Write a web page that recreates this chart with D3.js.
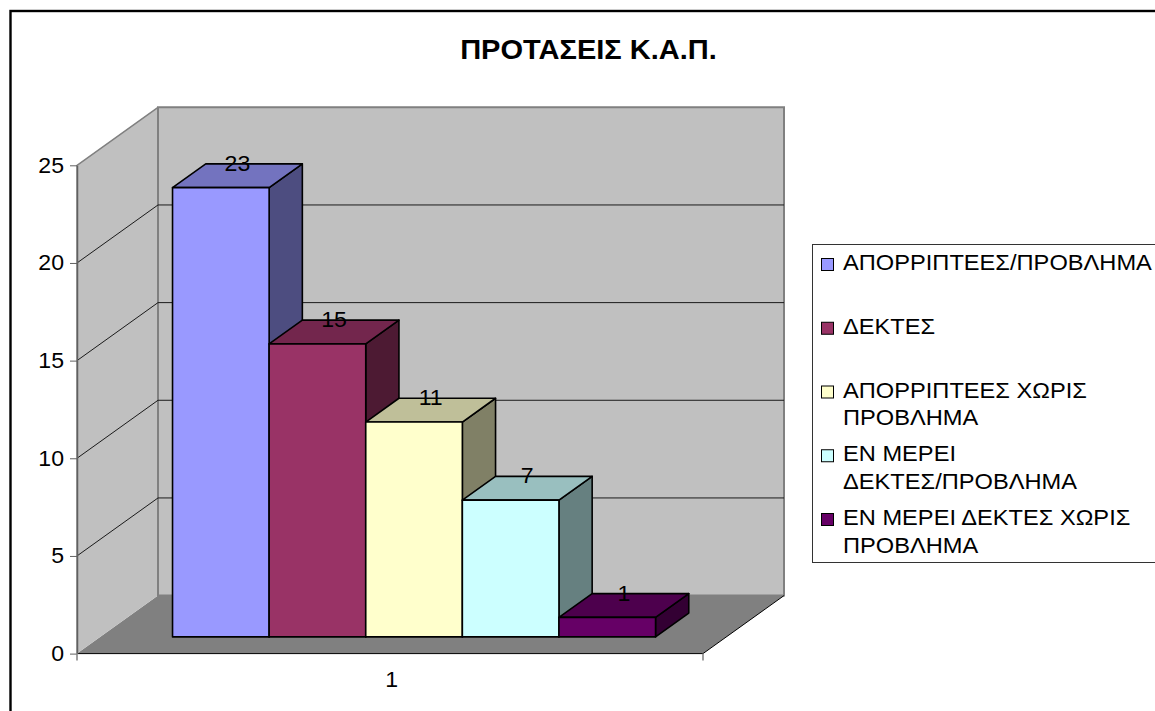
<!DOCTYPE html>
<html>
<head>
<meta charset="utf-8">
<script src="https://cdn.jsdelivr.net/npm/d3@7"></script>
<style>
  html, body { margin: 0; padding: 0; background: #fff; overflow: hidden; }
  svg { display: block; }
  text { font-family: "Liberation Sans", Arial, sans-serif; fill: #000; }
</style>
</head>
<body>
<div id="chart"></div>
<script>
const title = 'ΠΡΟΤΑΣΕΙΣ Κ.Α.Π.';
const categories = ['1'];
const seriesNames = [
  ['ΑΠΟΡΡΙΠΤΕΕΣ/ΠΡΟΒΛΗΜΑ'],
  ['ΔΕΚΤΕΣ'],
  ['ΑΠΟΡΡΙΠΤΕΕΣ ΧΩΡΙΣ', 'ΠΡΟΒΛΗΜΑ'],
  ['ΕΝ ΜΕΡΕΙ', 'ΔΕΚΤΕΣ/ΠΡΟΒΛΗΜΑ'],
  ['ΕΝ ΜΕΡΕΙ ΔΕΚΤΕΣ ΧΩΡΙΣ', 'ΠΡΟΒΛΗΜΑ'],
];
const seriesValues = [23, 15, 11, 7, 1];
const seriesColors = ['#9999ff', '#993366', '#ffffcc', '#ccffff', '#660066'];
const yTicks = [0, 5, 10, 15, 20, 25];

const width = 1155;
const height = 711;

// front plane of the box and how far the depth axis shifts things on screen
const plot = { left: 77, right: 703, top: 165.3, bottom: 653.6 };
const depth = { dx: 81, dy: 58 };
// bars stand part way into the box
const barDepth = { start: 0.288, size: 0.41 };
// the text in the chart is wider than the font's own proportions
const stretch = 'scale(1.075, 1)';
const fontSize = 21.5;

const yScale = d3.scaleLinear().domain([0, 25]).range([plot.bottom, plot.top]);
const x0 = d3.scaleBand().domain(categories).range([plot.left, plot.right]).paddingOuter(0.148).align(0.505);
const x1 = d3.scaleBand().domain(d3.range(seriesValues.length)).range([x0('1'), x0('1') + x0.bandwidth()]);

// x on front plane, y value, z 0..1 into the box
function project(x, v, z) {
  return [x + z * depth.dx, yScale(v) - z * depth.dy];
}
const line = d3.line();

const svg = d3.select('#chart').append('svg')
  .attr('width', width)
  .attr('height', height)
  .attr('viewBox', `0 0 ${width} ${height}`);

svg.append('rect')
  .attr('x', 10.5).attr('y', 11)
  .attr('width', width + 20).attr('height', height + 20)
  .attr('fill', '#fff').attr('stroke', '#000').attr('stroke-width', 2.4);

svg.append('text')
  .attr('transform', `translate(588.5, 59) ${stretch}`)
  .attr('text-anchor', 'middle')
  .attr('font-size', 27).attr('font-weight', 'bold')
  .text(title);

// walls
const yMax = yScale.domain()[1];
const walls = svg.append('g').attr('class', 'walls');
walls.append('path')
  .attr('d', line([project(plot.left, 0, 0), project(plot.right, 0, 0), project(plot.right, 0, 1), project(plot.left, 0, 1)]) + 'Z')
  .attr('fill', '#808080');
walls.append('path')
  .attr('d', line([project(plot.left, 0, 0), project(plot.left, yMax, 0), project(plot.left, yMax, 1), project(plot.left, 0, 1)]) + 'Z')
  .attr('fill', '#c0c0c0');
walls.append('path')
  .attr('d', line([project(plot.left, 0, 1), project(plot.left, yMax, 1), project(plot.right, yMax, 1), project(plot.right, 0, 1)]) + 'Z')
  .attr('fill', '#c0c0c0').attr('stroke', '#808080').attr('stroke-width', 2);
walls.append('path')
  .attr('d', line([project(plot.left, 0, 0), project(plot.left, yMax, 0), project(plot.left, yMax, 1)]))
  .attr('fill', 'none').attr('stroke', '#808080').attr('stroke-width', 1.5);

// gridlines
const grid = svg.append('g').attr('class', 'gridlines')
  .attr('fill', 'none').attr('stroke', '#1a1a1a').attr('stroke-width', 1);
grid.selectAll('path')
  .data(yTicks.slice(1, -1))
  .join('path')
  .attr('d', (d) => line([project(plot.left, d, 0), project(plot.left, d, 1), project(plot.right, d, 1)]));

// floor front and right edges
svg.append('path')
  .attr('d', line([project(plot.left, 0, 0), project(plot.right, 0, 0), project(plot.right, 0, 1)]))
  .attr('fill', 'none').attr('stroke', '#000').attr('stroke-width', 1);

// axes
const yAxis = d3.axisLeft(yScale).tickValues(yTicks).tickSize(7).tickSizeOuter(0);
svg.append('g')
  .attr('transform', `translate(${plot.left}, 0)`)
  .call(yAxis)
  .call((g) => g.selectAll('text')
    .attr('font-size', fontSize)
    .attr('x', 0)
    .attr('transform', `translate(-13, 0) ${stretch}`))
  .call((g) => g.selectAll('line').attr('stroke', '#606060').attr('stroke-width', 1))
  .call((g) => g.select('.domain').attr('stroke', '#606060').attr('stroke-width', 1.5));

const xAxis = svg.append('g').attr('class', 'x-axis');
xAxis.selectAll('line')
  .data([plot.left, plot.right])
  .join('line')
  .attr('x1', (d) => d).attr('x2', (d) => d)
  .attr('y1', plot.bottom).attr('y2', plot.bottom + 7)
  .attr('stroke', '#808080').attr('stroke-width', 1.5);
xAxis.selectAll('text')
  .data(categories)
  .join('text')
  .attr('transform', (d) => `translate(${x0(d) + x0.bandwidth() / 2 + 1}, 686.5) ${stretch}`)
  .attr('text-anchor', 'middle')
  .attr('font-size', fontSize)
  .text((d) => d);

// bars, painted from left to right so each one covers the previous side face
const shades = (c, k) => d3.rgb(c.r * k, c.g * k, c.b * k).formatHex();
const bars = svg.append('g').attr('class', 'bars')
  .attr('stroke', '#000').attr('stroke-width', 1.6).attr('stroke-linejoin', 'round');
seriesValues.forEach((v, i) => {
  const xa = x1(i);
  const xb = xa + x1.bandwidth();
  const z0 = barDepth.start;
  const z1 = barDepth.start + barDepth.size;
  const c = d3.rgb(seriesColors[i]);
  const g = bars.append('g');
  g.append('path')
    .attr('d', line([project(xb, 0, z0), project(xb, 0, z1), project(xb, v, z1), project(xb, v, z0)]) + 'Z')
    .attr('fill', shades(c, 0.5));
  g.append('path')
    .attr('d', line([project(xa, v, z0), project(xa, v, z1), project(xb, v, z1), project(xb, v, z0)]) + 'Z')
    .attr('fill', shades(c, 0.75));
  g.append('path')
    .attr('d', line([project(xa, 0, z0), project(xa, v, z0), project(xb, v, z0), project(xb, 0, z0)]) + 'Z')
    .attr('fill', seriesColors[i]);
});

// value labels: centred on the bar's depth, baseline just under the back edge of the top face
svg.append('g').attr('class', 'labels')
  .selectAll('text')
  .data(seriesValues)
  .join('text')
  .attr('transform', (d, i) => {
    const px = project(x1(i) + x1.bandwidth() / 2, d, barDepth.start + barDepth.size / 2)[0];
    const py = project(0, d, barDepth.start + barDepth.size)[1] + 7;
    return `translate(${px}, ${py}) ${stretch}`;
  })
  .attr('text-anchor', 'middle')
  .attr('font-size', fontSize)
  .text((d) => d);

// legend
const legend = svg.append('g').attr('class', 'legend');
legend.append('rect')
  .attr('x', 812.5).attr('y', 244.5)
  .attr('width', 400).attr('height', 318)
  .attr('fill', '#fff').attr('stroke', '#333').attr('stroke-width', 1);
const legendY = d3.scalePoint().domain(d3.range(seriesNames.length)).range([270, 525]);
const rows = legend.selectAll('g')
  .data(seriesNames)
  .join('g')
  .attr('transform', (d, i) => `translate(0, ${legendY(i)})`);
rows.append('rect')
  .attr('x', 821.5).attr('y', -11.5)
  .attr('width', 12).attr('height', 12)
  .attr('fill', (d, i) => seriesColors[i])
  .attr('stroke', '#000').attr('stroke-width', 1);
rows.selectAll('text')
  .data((d) => d)
  .join('text')
  .attr('transform', (d, i) => `translate(843, ${i * 27.5}) ${stretch}`)
  .attr('font-size', 22)
  .text((d) => d);
</script>
</body>
</html>
